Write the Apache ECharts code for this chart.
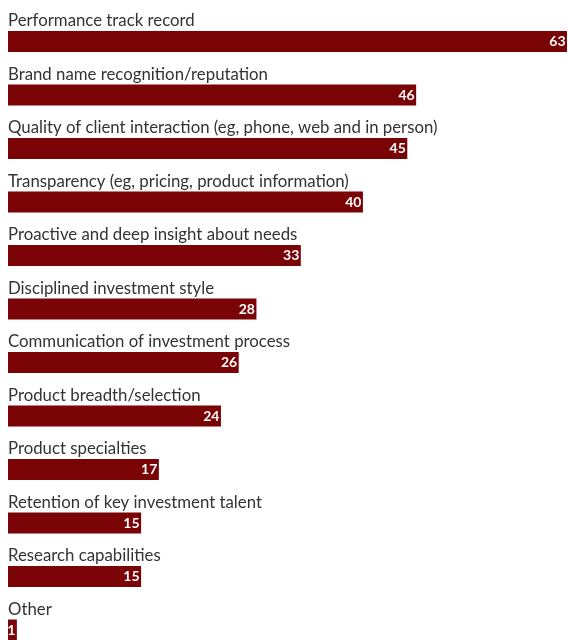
<!DOCTYPE html>
<html>
<head>
<meta charset="utf-8">
<script src="https://cdn.jsdelivr.net/npm/echarts@6/dist/echarts.min.js"></script>
<style>
  html, body { margin: 0; padding: 0; background: #fff; overflow: hidden; }
  #chart { width: 568px; height: 660px; }
</style>
</head>
<body>
<div id="chart"></div>
<script>
const categories = [
  'Performance track record',
  'Brand name recognition/reputation',
  'Quality of client interaction (eg, phone, web and in person)',
  'Transparency (eg, pricing, product information)',
  'Proactive and deep insight about needs',
  'Disciplined investment style',
  'Communication of investment process',
  'Product breadth/selection',
  'Product specialties',
  'Retention of key investment talent',
  'Research capabilities',
  'Other'
];
const values = [63, 46, 45, 40, 33, 28, 26, 24, 17, 15, 15, 1];

const chart = echarts.init(document.getElementById('chart'), null, { renderer: 'canvas' });
chart.setOption({
  animation: false,
  grid: { left: 8, top: 14.75, width: 559, height: 642, containLabel: false },
  xAxis: {
    type: 'value', min: 0, max: 63, show: false
  },
  yAxis: {
    type: 'category',
    data: categories,
    inverse: true,
    axisLine: { show: false },
    axisTick: { show: false },
    splitLine: { show: false },
    axisLabel: {
      inside: true,
      margin: 0,
      align: 'left',
      verticalAlign: 'bottom',
      padding: [0, 0, 12, 0],
      color: '#333333',
      fontFamily: 'Lato',
      fontSize: 16.8
    },
    z: 10
  },
  series: [{
    type: 'bar',
    data: values,
    barWidth: 21,
    itemStyle: { color: '#7a0306' },
    label: {
      show: true,
      position: 'insideRight',
      distance: 1.5,
      color: '#ffffff',
      fontFamily: 'Lato',
      fontWeight: 'bold',
      fontSize: 14
    }
  }]
});
</script>
</body>
</html>
